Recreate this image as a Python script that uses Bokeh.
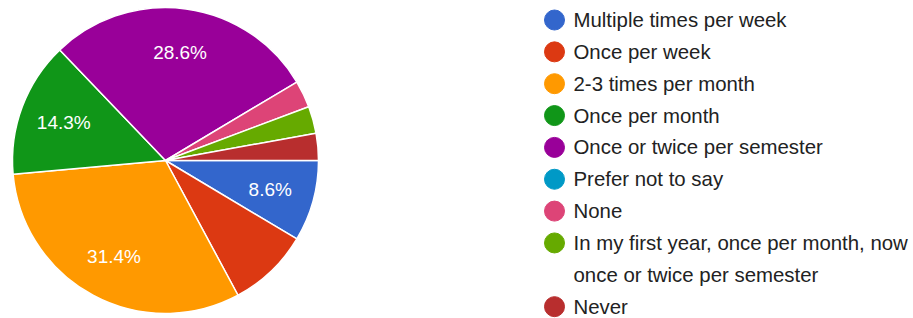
import numpy as np
from bokeh.plotting import figure
from bokeh.models import Range1d, ColumnDataSource
from bokeh.core.properties import value
from bokeh.embed import file_html
from bokeh.resources import INLINE

# ---- data ----
categories = [
    "Multiple times per week",
    "Once per week",
    "2-3 times per month",
    "Once per month",
    "Once or twice per semester",
    "Prefer not to say",
    "None",
    "In my first year, once per month, now\nonce or twice per semester",
    "Never",
]
counts = [3, 3, 11, 5, 10, 0, 1, 1, 1]
colors = ["#3366cc", "#dc3912", "#ff9900", "#109618", "#990099",
          "#0099c6", "#dd4477", "#66aa00", "#b82e2e"]
show_pct = [True, False, True, True, True, False, False, False, False]

# ---- figure ----
W, H = 913, 318
p = figure(width=W, height=H, x_range=Range1d(0, W), y_range=Range1d(0, H),
           output_backend="svg", toolbar_location=None, min_border=0,
           x_axis_location=None, y_axis_location=None)
p.grid.visible = False
p.outline_line_color = None
p.background_fill_color = "white"
p.border_fill_color = "white"

cx, cy, R = 165, 158, 153
total = float(sum(counts))
frac = np.array(counts) / total
cum_end = np.cumsum(frac)
cum_start = cum_end - frac

ws, we, wc = [], [], []
for i in range(len(counts)):
    if counts[i] <= 0:
        continue
    ws.append(-cum_end[i] * 2 * np.pi)
    we.append(-cum_start[i] * 2 * np.pi)
    wc.append(colors[i])
src = ColumnDataSource(dict(s=ws, e=we, c=wc))
p.wedge(x=cx, y=cy, radius=R, start_angle="s", end_angle="e", fill_color="c",
        line_color="white", line_width=1.5, source=src)

lx, ly, lt = [], [], []
for i in range(len(counts)):
    if counts[i] <= 0 or not show_pct[i]:
        continue
    mid = -(cum_start[i] + cum_end[i]) / 2 * 2 * np.pi
    lx.append(cx + 0.71 * R * np.cos(mid))
    ly.append(cy + 0.71 * R * np.sin(mid))
    lt.append(f"{counts[i] / total * 100:.1f}%")
p.text(x=lx, y=ly, text=lt, text_color="white", text_font=value("Liberation Sans"),
       text_font_size="19px", text_align="center", text_baseline="middle")

# ---- legend ----
mx, tx, top, step = 554, 573, 298.5, 31.85
dot_x, dot_y, dot_c = [], [], []
txt_x, txt_y, txt_t = [], [], []
slot = 0
for i, cat in enumerate(categories):
    lines = cat.split("\n")
    y0 = top - slot * step
    dot_x.append(mx); dot_y.append(y0); dot_c.append(colors[i])
    for j, ln in enumerate(lines):
        txt_x.append(tx); txt_y.append(y0 - j * step); txt_t.append(ln)
    slot += len(lines)
p.scatter(x=dot_x, y=dot_y, color=dot_c, size=20, marker="circle")
p.text(x=txt_x, y=txt_y, text=txt_t, text_color="#222222",
       text_font=value("Liberation Sans"), text_font_size="20.4px",
       text_align="left", text_baseline="middle")

open("out.html", "w").write(file_html(p, INLINE))
